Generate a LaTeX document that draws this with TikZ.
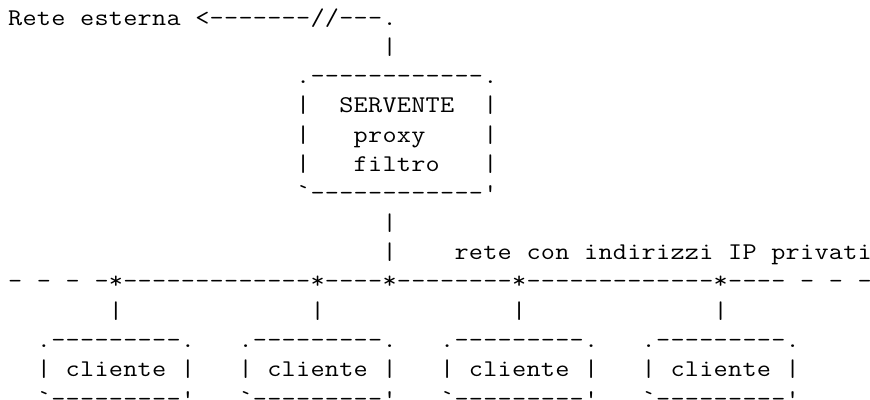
\documentclass[tikz,border=0pt]{standalone}
\usepackage{graphicx}

% grid of the drawing: column and row of a character
\newcommand\cw{14.4pt}
\newcommand\cx[1]{8+#1*14.4}
\newcommand\ry[1]{25+#1*29.33}
% every character sits in a cell of its own, ~ is an empty cell
\newcommand\cells[1]{\cellsloop#1\relax}
\def\cellsloop#1{\ifx#1\relax\else\makebox[\cw][c]{\scalebox{1.1429}[1]{#1}}\expandafter\cellsloop\fi}

\begin{document}
\begin{tikzpicture}[
    x=1pt,
    y=-1pt,
    ascii/.style={
        anchor=base west,
        inner sep=0pt,
        outer sep=0pt,
        font=\ttfamily\fontsize{24pt}{24pt}\selectfont
    }
]
\useasboundingbox (0,0) rectangle (870,399);

% external network
\node[ascii] (est) at (\cx{0},\ry{0}) {\cells{Rete~esterna~<-------//---.}};
\node[ascii] (estbar) at (\cx{26},\ry{1}) {\cells{|}};

% server box
\node[ascii] (srvtop) at (\cx{20},\ry{2}) {\cells{.------------.}};
\node[ascii] (srv1) at (\cx{20},\ry{3}) {\cells{|~~SERVENTE~~|}};
\node[ascii] (srv2) at (\cx{20},\ry{4}) {\cells{|~~~proxy~~~~|}};
\node[ascii] (srv3) at (\cx{20},\ry{5}) {\cells{|~~~filtro~~~|}};
\node[ascii] (srvbot) at (\cx{20},\ry{6}) {\cells{`------------'}};
\node[ascii] (srvbar1) at (\cx{26},\ry{7}) {\cells{|}};
\node[ascii] (srvbar2) at (\cx{26},\ry{8}) {\cells{|}};
\node[ascii] (lan) at (\cx{31},\ry{8}) {\cells{rete~con~indirizzi~IP~privati}};

% private network
\node[ascii] (bus) at (\cx{0},\ry{9})
    {\cells{-~-~-~-*-------------*----*--------*-------------*----~-~-~-}};

% clients
\foreach \c/\col/\bar in {1/2/7, 2/16/21, 3/30/35, 4/44/49} {
    \node[ascii] (cbar\c) at (\cx{\bar},\ry{10}) {\cells{|}};
    \node[ascii] (ctop\c) at (\cx{\col},\ry{11}) {\cells{.---------.}};
    \node[ascii] (cli\c) at (\cx{\col},\ry{12}) {\cells{|~cliente~|}};
    \node[ascii] (cbot\c) at (\cx{\col},\ry{13}) {\cells{`---------'}};
}

\end{tikzpicture}
\end{document}
